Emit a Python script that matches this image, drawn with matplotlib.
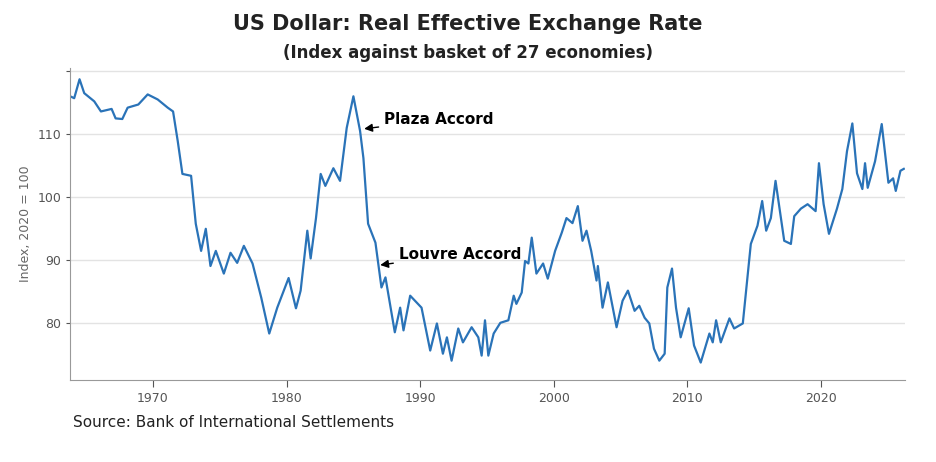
import matplotlib
matplotlib.use("Agg")
import matplotlib.pyplot as plt

years = [1963.8,1964.1,1964.5,1964.85,1965.6,1966.1,1966.9,1967.2,1967.7,1968.1,1968.9,1969.6,1970.35,1971.1,1971.5,1971.85,1972.2,1972.85,1973.2,1973.6,1973.95,1974.3,1974.7,1975.3,1975.8,1976.3,1976.8,1977.45,1978.1,1978.7,1979.3,1980.15,1980.7,1981.05,1981.55,1981.8,1982.2,1982.55,1982.9,1983.5,1984.0,1984.5,1985.0,1985.5,1985.75,1986.1,1986.65,1987.1,1987.4,1988.1,1988.5,1988.75,1989.25,1990.1,1990.75,1991.25,1991.7,1992.0,1992.35,1992.85,1993.2,1993.85,1994.35,1994.6,1994.85,1995.1,1995.5,1996.0,1996.6,1997.0,1997.2,1997.6,1997.85,1998.1,1998.35,1998.7,1999.2,1999.55,2000.1,2000.6,2000.95,2001.4,2001.8,2002.15,2002.45,2002.8,2003.2,2003.3,2003.65,2004.05,2004.7,2005.15,2005.55,2006.05,2006.4,2006.8,2007.15,2007.5,2007.9,2008.3,2008.5,2008.85,2009.15,2009.5,2010.1,2010.5,2011.0,2011.65,2011.9,2012.15,2012.5,2013.15,2013.5,2014.15,2014.75,2015.25,2015.6,2015.9,2016.25,2016.6,2017.25,2017.75,2018.0,2018.5,2019.0,2019.6,2019.85,2020.2,2020.6,2021.2,2021.6,2021.95,2022.35,2022.7,2023.1,2023.3,2023.5,2024.05,2024.55,2025.05,2025.4,2025.6,2025.95,2026.2]
values = [116.0,115.7,118.7,116.5,115.2,113.6,114.0,112.5,112.4,114.2,114.7,116.3,115.5,114.2,113.6,108.9,103.7,103.4,95.8,91.5,95.0,89.1,91.5,87.9,91.2,89.6,92.3,89.5,84.1,78.4,82.5,87.2,82.4,85.2,94.7,90.3,96.7,103.7,101.8,104.6,102.6,111.0,116.0,110.5,106.2,95.8,92.8,85.7,87.3,78.6,82.5,78.9,84.4,82.5,75.7,80.0,75.2,77.8,74.1,79.2,77.0,79.4,77.8,74.9,80.5,74.9,78.4,80.1,80.5,84.4,83.1,84.9,89.9,89.5,93.6,87.9,89.5,87.1,91.5,94.4,96.7,95.9,98.6,93.1,94.7,91.5,86.8,89.1,82.5,86.5,79.4,83.6,85.2,82.0,82.8,80.9,80.0,76.0,74.1,75.2,85.7,88.7,82.5,77.8,82.4,76.5,73.8,78.4,77.0,80.5,77.0,80.8,79.2,80.0,92.6,95.5,99.4,94.7,96.7,102.6,93.1,92.6,97.0,98.2,98.9,97.8,105.4,98.9,94.2,98.2,101.3,107.3,111.7,103.8,101.3,105.4,101.5,105.7,111.6,102.3,103.0,101.0,104.2,104.5]
x_ticks = [1970, 1980, 1990, 2000, 2010, 2020]
y_ticks = [80, 90, 100, 110]

fig = plt.figure(figsize=(9.36, 4.62), dpi=100)
ax = fig.add_axes([0.075, 0.177, 0.892, 0.676])
ax.plot(years, values, color="#2a73b8", lw=1.6)
ax.set_xlim(1963.8, 2026.3)
ax.set_ylim(71, 120.5)
ax.set_xticks(x_ticks)
ax.set_yticks(y_ticks + [120])
ax.set_yticklabels([str(v) for v in y_ticks] + [""])
for v in y_ticks + [120]:
    ax.axhline(v, color="#e3e3e3", lw=1, zorder=0)
for s in ["top", "right"]:
    ax.spines[s].set_visible(False)
for s in ["left", "bottom"]:
    ax.spines[s].set_color("#999999")
ax.tick_params(colors="#555555", labelsize=9, length=5)
ax.tick_params(axis="y", length=3)
ax.set_ylabel("Index, 2020 = 100", color="#666666", fontsize=9)

fig.text(0.5, 0.935, "US Dollar: Real Effective Exchange Rate", ha="center",
         fontsize=15, fontweight="bold", color="#222222")
fig.text(0.5, 0.875, "(Index against basket of 27 economies)", ha="center",
         fontsize=12, fontweight="bold", color="#222222")
fig.text(0.078, 0.075, "Source: Bank of International Settlements", fontsize=11, color="#222222")

arrow = dict(arrowstyle="-|>", color="black", lw=1, mutation_scale=12)
ax.annotate("Plaza Accord", xy=(1985.6, 110.8), xytext=(1987.3, 112.3),
            fontsize=11, fontweight="bold", va="center", arrowprops=arrow)
ax.annotate("Louvre Accord", xy=(1986.8, 89.2), xytext=(1988.4, 91.0),
            fontsize=11, fontweight="bold", va="center", arrowprops=arrow)

fig.savefig("out.png")
